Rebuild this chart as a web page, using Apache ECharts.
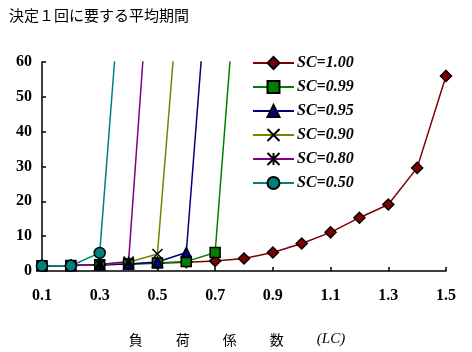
<!DOCTYPE html>
<html><head><meta charset="utf-8">
<script src="https://cdn.jsdelivr.net/npm/echarts@6/dist/echarts.min.js"></script>
<style>html,body{margin:0;padding:0;background:#fff}#c{width:472px;height:352px}</style>
</head><body><div id="c"></div>
<script>
var categories = ['0.1','0.2','0.3','0.4','0.5','0.6','0.7','0.8','0.9','1.0','1.1','1.2','1.3','1.4','1.5'];
var seriesNames = ['SC=1.00','SC=0.99','SC=0.95','SC=0.90','SC=0.80','SC=0.50'];
var sc100 = [1.5,1.6,1.8,2.0,2.2,2.5,2.9,3.6,5.3,7.9,11.1,15.3,19.1,29.6,56.0];
var sc099 = [1.5,1.6,1.8,2.0,2.3,2.7,5.3,112];
var sc095 = [1.5,1.6,1.8,2.0,2.6,5.3,112];
var sc090 = [1.5,1.6,1.9,2.5,4.9,107];
var sc080 = [1.5,1.6,1.9,2.7,119];
var sc050 = [1.5,1.5,5.2,112];
var yTicks = [0,10,20,30,40,50,60];
var title = '決定１回に要する平均期間';

var colors = ['#800000','#008000','#000080','#808000','#800080','#008080'];
var symbols = ['diamond','rect','triangle','path://M0,0L10,10M10,0L0,10','path://M5,0L5,10M0,0L10,10M10,0L0,10','circle'];
var sizes = [11,10,10,10,10,11];
var datas = [sc100,sc099,sc095,sc090,sc080,sc050];

var series = seriesNames.map(function(n,i){
  return {
    name:n, type:'line', data:datas[i], color:colors[i],
    symbol:symbols[i], symbolSize:sizes[i], showAllSymbol:true,
    lineStyle:{width:1.5,color:colors[i]},
    itemStyle:{color:colors[i],borderColor:'#000',borderWidth:1.5},
    clip:true, animation:false
  };
});

var chart = echarts.init(document.getElementById('c'));
chart.setOption({
  animation:false,
  backgroundColor:'#fff',
  title:{text:title,left:4,top:3,textStyle:{fontFamily:'Noto Sans CJK JP',fontSize:15,fontWeight:'normal',color:'#000'}},
  grid:{left:42,right:26,top:62,bottom:81},
  legend:{
    orient:'vertical', left:252, top:55, padding:0, itemWidth:41, itemHeight:15, itemGap:8,
    textStyle:{fontFamily:'Liberation Serif',fontSize:16,fontWeight:'bold',fontStyle:'italic',color:'#000',lineHeight:16,padding:[0,0,0,-2]},
    data:seriesNames
  },
  xAxis:{
    type:'category', data:categories, boundaryGap:false,
    axisLine:{lineStyle:{color:'#000',width:1.5}},
    axisTick:{inside:true,length:4,lineStyle:{color:'#000',width:1.5}},
    axisLabel:{interval:1,margin:17,fontFamily:'Liberation Serif',fontSize:16,fontWeight:'bold',color:'#000'},
    name:'負{s|}荷{s|}係{s|}数{s|}{i|(LC)}', nameLocation:'middle', nameGap:61,
    nameTextStyle:{fontFamily:'Noto Sans CJK JP',fontSize:14,color:'#000',padding:[0,14,0,0],
      rich:{s:{width:33},i:{fontFamily:'Liberation Serif',fontStyle:'italic',fontSize:15,color:'#000'}}}
  },
  yAxis:{
    type:'value', min:0, max:60, interval:10,
    axisLine:{show:true,lineStyle:{color:'#000',width:1.5}},
    axisTick:{show:true,inside:true,length:4,lineStyle:{color:'#000',width:1.5}},
    splitLine:{show:false},
    axisLabel:{margin:10,fontFamily:'Liberation Serif',fontSize:16,fontWeight:'bold',color:'#000'}
  },
  series:series
});
</script></body></html>
